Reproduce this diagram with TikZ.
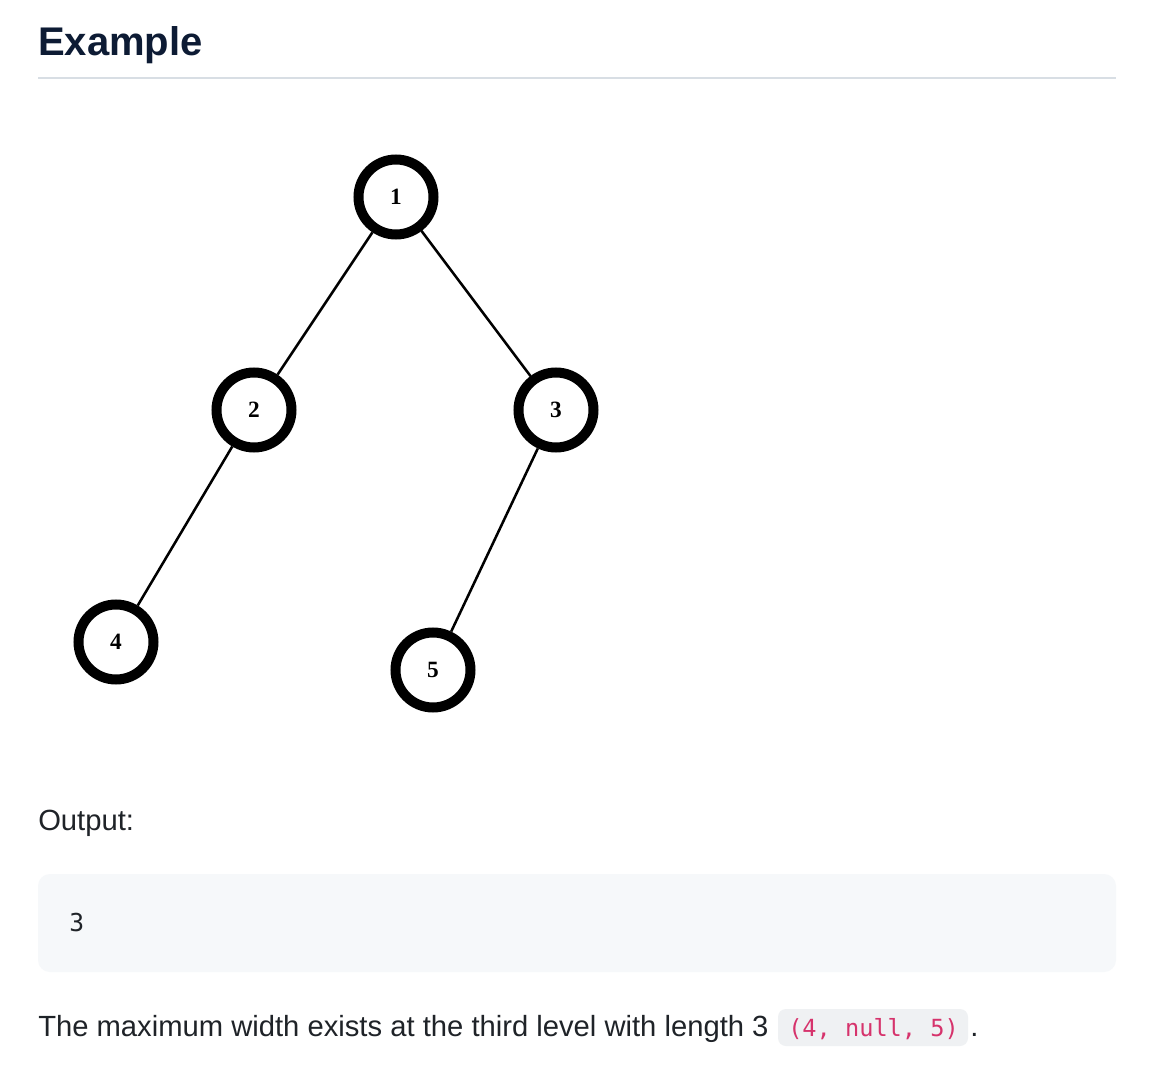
\documentclass[tikz,border=0pt]{standalone}
\usepackage{fontspec}
\setmainfont{Liberation Sans}
\newfontfamily\numfont{Liberation Serif}
\newfontfamily\codefont{DejaVu Sans Mono}
\definecolor{headc}{RGB}{13,27,52}
\definecolor{bodyc}{RGB}{31,35,40}
\definecolor{rulec}{RGB}{216,222,228}
\definecolor{codebg}{RGB}{246,248,250}
\definecolor{inlinebg}{RGB}{239,241,243}
\definecolor{pinkc}{RGB}{214,51,108}
\tikzset{
  treenode/.style={circle, draw=black, line width=7.5pt, minimum size=56.25pt, inner sep=0pt, fill=white,
    font=\numfont\bfseries\fontsize{17.5}{17.5}\selectfont},
  edge/.style={line width=1.9pt, black},
  bodytext/.style={anchor=base west, inner sep=0pt, text=bodyc, font=\fontsize{21.9}{24}\selectfont},
}
\begin{document}
\begin{tikzpicture}[x=0.75pt, y=-0.75pt]
\useasboundingbox[fill=white] (0,0) rectangle (1158,1074);
% heading
\node[anchor=base west, inner sep=0pt, text=headc, font=\bfseries\fontsize{30}{34}\selectfont] (title) at (38,56) {Example};
\draw[rulec, line width=1.5pt] (38,78) -- (1116,78);
% tree
\node[treenode] (n1) at (396,197) {1};
\node[treenode] (n2) at (254,410) {2};
\node[treenode] (n3) at (556,410) {3};
\node[treenode] (n4) at (116,642) {4};
\node[treenode] (n5) at (433,670) {5};
\draw[edge] (n1) -- (n2);
\draw[edge] (n1) -- (n3);
\draw[edge] (n2) -- (n4);
\draw[edge] (n3) -- (n5);
% output
\node[bodytext] (out) at (38,830) {Output:};
\fill[codebg, rounded corners=9pt] (38,874) rectangle (1116,972);
\node[anchor=base west, inner sep=0pt, text=bodyc, font=\codefont\fontsize{18.5}{20}\selectfont] (res) at (69,931) {3};
% explanation
\fill[inlinebg, rounded corners=6pt] (778,1009) rectangle (968,1046);
\node[bodytext] (expl) at (38,1036) {The maximum width exists at the third level with length 3};
\node[anchor=base west, inner sep=0pt, text=pinkc, font=\codefont\fontsize{17.7}{20}\selectfont] (code) at (788,1036) {(4, null, 5)};
\node[bodytext, anchor=base west] (dot) at (970,1036) {.};
\end{tikzpicture}
\end{document}
